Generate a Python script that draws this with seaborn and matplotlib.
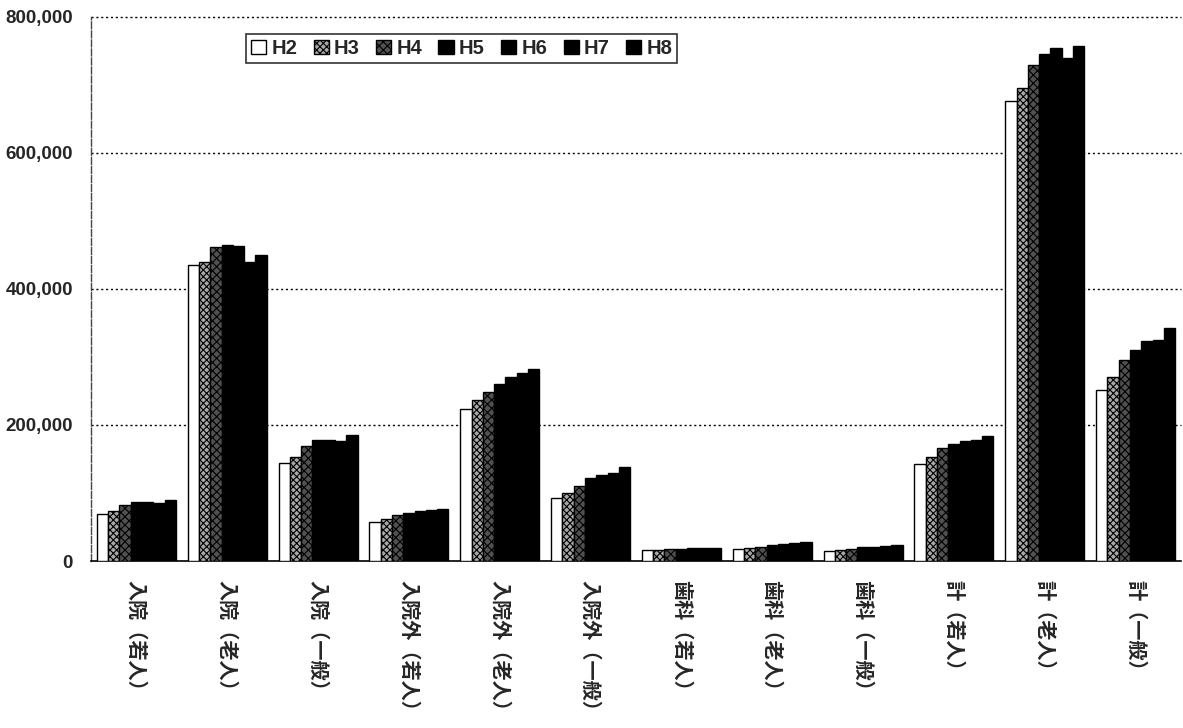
import matplotlib
matplotlib.use("Agg")
import matplotlib.pyplot as plt
import seaborn as sns
import pandas as pd
from matplotlib.patches import Patch
from matplotlib.ticker import FuncFormatter, FixedLocator

# Medical cost per person by category and fiscal year (yen)
categories = ["入院（若人）", "入院（老人）", "入院（一般）",
              "入院外（若人）", "入院外（老人）", "入院外（一般）",
              "歯科（若人）", "歯科（老人）", "歯科（一般）",
              "計（若人）", "計（老人）", "計（一般）"]
years = ["H2", "H3", "H4", "H5", "H6", "H7", "H8"]

h2 = [69000, 436000, 144000, 58000, 224000, 92000, 16000, 17000, 15000, 143000, 676000, 251000]
h3 = [74000, 440000, 153000, 62000, 237000, 100000, 16500, 19000, 16000, 153000, 696000, 270000]
h4 = [82000, 462000, 169000, 67000, 249000, 110000, 17000, 21000, 18000, 166000, 729000, 295000]
h5 = [87000, 465000, 178000, 71000, 261000, 122000, 18000, 23000, 20000, 172000, 745000, 311000]
h6 = [87000, 463000, 178000, 73000, 270000, 126000, 18500, 25000, 21000, 177000, 755000, 323000]
h7 = [85000, 439000, 177000, 74500, 276000, 130000, 18500, 26000, 22000, 178000, 739000, 325000]
h8 = [90000, 450000, 186000, 76000, 283000, 138000, 19000, 27500, 24000, 184000, 757000, 343000]

series = [h2, h3, h4, h5, h6, h7, h8]
df = pd.DataFrame({
    "category": [c for _ in years for c in categories],
    "year": [y for y in years for _ in categories],
    "value": [v for s in series for v in s],
})

sns.set_style("white")
plt.rcParams["font.family"] = ["Liberation Sans", "Noto Sans CJK JP", "DejaVu Sans"]
plt.rcParams["hatch.linewidth"] = 0.8

# Fill styles per year: open, light hatch, dark hatch, then solid black
styles = [
    dict(facecolor="white", hatch=None),
    dict(facecolor="#a8a8a8", hatch="xxxxx"),
    dict(facecolor="#505050", hatch="xxxx"),
    dict(facecolor="black", hatch=None),
    dict(facecolor="black", hatch=None),
    dict(facecolor="black", hatch=None),
    dict(facecolor="black", hatch=None),
]

fig = plt.figure(figsize=(11.83, 7.28), dpi=100)
ax = fig.add_axes([91 / 1183, 1 - 561 / 728, 1090 / 1183, 544 / 728])

sns.barplot(data=df, x="category", y="value", hue="year", order=categories,
            hue_order=years, palette=["white"] * 7, width=0.87, gap=0,
            edgecolor="black", linewidth=1.0, legend=False, ax=ax, zorder=3)

for cont, st in zip(ax.containers, styles):
    for bar in cont:
        bar.set_facecolor(st["facecolor"])
        bar.set_edgecolor("black")
        if st["hatch"]:
            bar.set_hatch(st["hatch"])

ax.set_ylim(0, 800000)
ax.set_xlim(-0.5, len(categories) - 0.5)
ax.yaxis.set_major_locator(FixedLocator([0, 200000, 400000, 600000, 800000]))
ax.yaxis.set_major_formatter(FuncFormatter(lambda v, p: f"{int(v):,}"))

# Dotted horizontal grid
for yv in [200000, 400000, 600000, 800000]:
    ax.axhline(yv, color="black", linestyle=(0, (1.5, 2)), linewidth=1.0, zorder=1, clip_on=False)

for side in ["top", "right"]:
    ax.spines[side].set_visible(False)
ax.spines["left"].set_linestyle((0, (5, 1.5)))
ax.spines["left"].set_color("#444444")
ax.spines["left"].set_linewidth(1.0)
ax.spines["bottom"].set_color("black")
ax.spines["bottom"].set_linewidth(1.2)

ax.set_xlabel("")
ax.set_ylabel("")

ax.tick_params(axis="y", which="major", direction="out", length=5, width=1,
               color="#444444", pad=8, labelsize=13.5)
for lab in ax.get_yticklabels():
    lab.set_fontweight("bold")

# Category boundary ticks on the baseline
ax.set_xticks([i + 0.5 for i in range(len(categories) - 1)], minor=True)
ax.tick_params(axis="x", which="minor", direction="in", length=6, width=1, color="black")
ax.tick_params(axis="x", which="major", length=0, pad=14)
ax.set_xticks(range(len(categories)))
ax.set_xticklabels(categories, rotation=-90, fontsize=14.5, fontweight="bold",
                   family=["Noto Sans CJK JP", "DejaVu Sans"], va="top", ha="center")

handles = []
for st, yr in zip(styles, years):
    handles.append(Patch(facecolor=st["facecolor"], edgecolor="black",
                         hatch=st["hatch"], linewidth=1.0, label=yr))
leg = fig.legend(handles=handles, loc="upper left",
                 bbox_to_anchor=(246 / 1183, 1 - 34 / 728), ncol=7,
                 frameon=True, fancybox=False, edgecolor="black",
                 prop={"family": "Liberation Sans", "weight": "bold", "size": 14.5},
                 handlelength=0.75, handleheight=0.75, handletextpad=0.25,
                 columnspacing=0.82, borderpad=0.25, borderaxespad=0)
leg.get_frame().set_linewidth(1.2)

fig.savefig("out.png", dpi=100, facecolor="white")
